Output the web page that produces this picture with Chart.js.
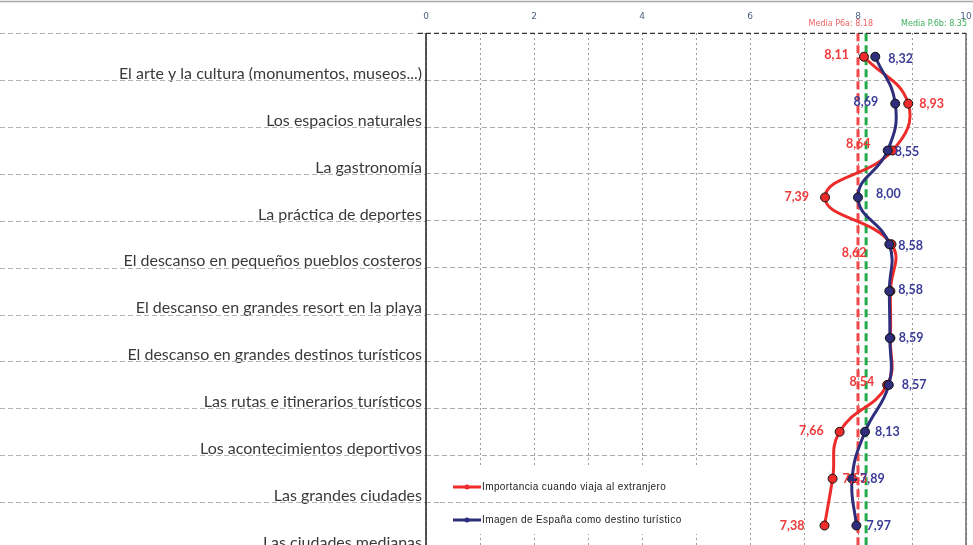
<!DOCTYPE html>
<html>
<head>
<meta charset="utf-8">
<script src="https://cdn.jsdelivr.net/npm/chart.js@4/dist/chart.umd.min.js"></script>
<style>
  html, body { margin: 0; padding: 0; background: #fff; overflow: hidden; }
  #wrap { position: relative; width: 973px; height: 560px; }
</style>
</head>
<body>
<div id="wrap"><canvas id="c"></canvas></div>
<script>
// ---- data ----
const categories = [
  'El arte y la cultura (monumentos, museos...)',
  'Los espacios naturales',
  'La gastronomía',
  'La práctica de deportes',
  'El descanso en pequeños pueblos costeros',
  'El descanso en grandes resort en la playa',
  'El descanso en grandes destinos turísticos',
  'Las rutas e itinerarios turísticos',
  'Los acontecimientos deportivos',
  'Las grandes ciudades',
  'Las ciudades medianas'
];
const seriesNames = ['Importancia cuando viaja al extranjero', 'Imagen de España como destino turístico'];
const importancia = [8.11, 8.93, 8.64, 7.39, 8.62, 8.60, 8.60, 8.54, 7.66, 7.53, 7.38];
const imagen      = [8.32, 8.69, 8.55, 8.00, 8.58, 8.58, 8.59, 8.57, 8.13, 7.89, 7.97];
const importanciaLabelShown = [true, true, true, true, true, false, false, true, true, true, true];
const imagenLabelShown      = [true, true, true, true, true, true, true, true, true, true, true];
const xTickLabels = [0, 2, 4, 6, 8, 10];
const meanTexts = ['Media P6a: 8.18', 'Media P.6b: 8.35'];
const meanLinePositions = [8.0, 8.15];

// ---- label placement (negative dx = text to the left, right-aligned) ----
const importanciaLabelDx = [-15, 11, -22, -16, -25, 0, 0, -13, -16, 10, -20];
const importanciaLabelDy = [-2, 0, -7, 0, 9, 0, 0, -3, -1, 0, 0];
const imagenLabelDx = [13, -17, 7, 18, 9, 9, 9, 13, 10, 8, 10];
const imagenLabelDy = [2, -2, 1, -3, 2, -1, 0, 0, 0, 0, 0];

const RED = '#ee2b2b';
const BLUE = '#2e2e7c';
const RED_TXT = '#f03a3a';
const BLUE_TXT = '#3b3b98';
const GREEN = '#22aa4a';

function fmt(v) { return v.toFixed(2).replace('.', ','); }

const decorPlugin = {
  id: 'decor',
  beforeDatasetsDraw(chart) {
    const ctx = chart.ctx;
    const a = chart.chartArea;
    const ys = chart.scales.y;
    const xs = chart.scales.x;
    const step = ys.getPixelForValue(1) - ys.getPixelForValue(0);
    ctx.save();
    // legend background box
    ctx.fillStyle = '#ffffff';
    ctx.fillRect(a.left + 14, 468, 305, 66);
    // horizontal dashed lines to the left of the plot and through the legend box
    ctx.lineWidth = 1;
    ctx.setLineDash([5, 3]);
    for (let i = 0; i < categories.length; i++) {
      const yb = Math.round(ys.getPixelForValue(i) - step / 2) + 0.5;
      ctx.strokeStyle = '#b4b4b4';
      ctx.beginPath();
      ctx.moveTo(0, yb);
      ctx.lineTo(a.left, yb);
      ctx.stroke();
      if (yb > 468 && yb < 534) {
        ctx.beginPath();
        ctx.moveTo(a.left + 14, yb);
        ctx.lineTo(a.left + 319, yb);
        ctx.stroke();
      }
    }
    // mean lines
    ctx.lineWidth = 3;
    ctx.setLineDash([8, 4]);
    const meanColors = ['#f04848', GREEN];
    meanLinePositions.forEach((m, k) => {
      const x = xs.getPixelForValue(m);
      ctx.strokeStyle = meanColors[k];
      ctx.beginPath();
      ctx.moveTo(x, a.top);
      ctx.lineTo(x, a.bottom);
      ctx.stroke();
    });
    // borders
    ctx.setLineDash([5, 3]);
    ctx.lineWidth = 1.3;
    ctx.strokeStyle = '#333';
    ctx.beginPath();
    ctx.moveTo(a.left - 8, a.top);
    ctx.lineTo(a.right, a.top);
    ctx.stroke();
    ctx.setLineDash([]);
    ctx.lineWidth = 1.6;
    ctx.strokeStyle = '#2a2a2a';
    ctx.beginPath();
    ctx.moveTo(a.left, a.top);
    ctx.lineTo(a.left, a.bottom);
    ctx.stroke();
    ctx.strokeStyle = '#555';
    ctx.lineWidth = 1.3;
    ctx.beginPath();
    ctx.moveTo(a.right, a.top);
    ctx.lineTo(a.right, a.bottom);
    ctx.stroke();
    // top frame line
    ctx.strokeStyle = '#a8a8a8';
    ctx.lineWidth = 1.5;
    ctx.beginPath();
    ctx.moveTo(0, 1.5);
    ctx.lineTo(chart.width, 1.5);
    ctx.stroke();
    // mean texts
    ctx.font = '8px "DejaVu Sans"';
    ctx.textAlign = 'right';
    ctx.textBaseline = 'middle';
    ctx.fillStyle = '#f06262';
    ctx.fillText(meanTexts[0], a.right - 93, 24);
    ctx.fillStyle = '#3cae5c';
    ctx.fillText(meanTexts[1], a.right + 1, 24);
    ctx.restore();
  },
  afterDatasetsDraw(chart) {
    const ctx = chart.ctx;
    const a = chart.chartArea;
    ctx.save();
    ctx.font = 'bold 12.5px Lato';
    ctx.textBaseline = 'middle';
    const sets = [
      { meta: chart.getDatasetMeta(0), vals: importancia, dx: importanciaLabelDx, dy: importanciaLabelDy, shown: importanciaLabelShown, color: RED_TXT },
      { meta: chart.getDatasetMeta(1), vals: imagen, dx: imagenLabelDx, dy: imagenLabelDy, shown: imagenLabelShown, color: BLUE_TXT }
    ];
    sets.forEach(s => {
      ctx.fillStyle = s.color;
      s.meta.data.forEach((pt, i) => {
        if (!s.shown[i]) return;
        const dx = s.dx[i];
        ctx.textAlign = dx < 0 ? 'right' : 'left';
        ctx.fillText(fmt(s.vals[i]), pt.x + dx, pt.y + s.dy[i]);
      });
    });
    // legend
    const items = [
      { name: seriesNames[0], color: RED, y: 487 },
      { name: seriesNames[1], color: BLUE, y: 520 }
    ];
    items.forEach(it => {
      ctx.strokeStyle = it.color;
      ctx.lineWidth = 3;
      ctx.beginPath();
      ctx.moveTo(a.left + 27, it.y);
      ctx.lineTo(a.left + 55, it.y);
      ctx.stroke();
      ctx.fillStyle = it.color;
      ctx.beginPath();
      ctx.arc(a.left + 41, it.y, 2.5, 0, Math.PI * 2);
      ctx.fill();
      ctx.fillStyle = '#222';
      ctx.font = '10px "Liberation Sans"';
      try { ctx.letterSpacing = '0.4px'; } catch (e) {}
      ctx.textAlign = 'left';
      ctx.fillText(it.name, a.left + 56, it.y);
      try { ctx.letterSpacing = '0px'; } catch (e) {}
    });
    ctx.restore();
  }
};

new Chart(document.getElementById('c'), {
  type: 'line',
  data: {
    labels: categories,
    datasets: [
      {
        label: seriesNames[0],
        data: importancia,
        borderColor: RED,
        backgroundColor: RED,
        borderWidth: 3,
        tension: 0.45,
        pointRadius: 4.5,
        pointBackgroundColor: RED,
        pointBorderColor: '#111',
        pointBorderWidth: 1,
        order: 1
      },
      {
        label: seriesNames[1],
        data: imagen,
        borderColor: BLUE,
        backgroundColor: BLUE,
        borderWidth: 3,
        tension: 0.45,
        pointRadius: 4.5,
        pointBackgroundColor: BLUE,
        pointBorderColor: '#111',
        pointBorderWidth: 1,
        order: 0
      }
    ]
  },
  options: {
    indexAxis: 'y',
    responsive: true,
    maintainAspectRatio: false,
    animation: false,
    layout: { padding: { top: 0, left: 0, right: 7, bottom: 11 } },
    plugins: { legend: { display: false }, tooltip: { enabled: false } },
    scales: {
      x: {
        type: 'linear',
        position: 'top',
        min: 0,
        max: 10,
        afterFit(scale) { scale.height = 33.3; scale.paddingLeft = 0; scale.paddingRight = 0; },
        ticks: {
          stepSize: 1,
          autoSkip: false,
          maxRotation: 0,
          padding: 11,
          color: '#4f5f82',
          font: { family: 'DejaVu Sans', size: 9 },
          callback: v => (xTickLabels.includes(v) ? String(v) : '')
        },
        grid: { color: '#9a9a9a', lineWidth: 1, drawTicks: false },
        border: { display: false, dash: [2, 3] }
      },
      y: {
        type: 'category',
        offset: true,
        afterFit(scale) { scale.width = 426; scale.paddingTop = 0; scale.paddingBottom = 0; },
        ticks: {
          padding: 4,
          labelOffset: 17,
          color: '#3a3a3a',
          font: { family: 'Lato', size: 16 }
        },
        grid: { offset: true, color: '#ababab', lineWidth: 1, drawTicks: false },
        border: { display: false, dash: [5, 3] }
      }
    }
  },
  plugins: [decorPlugin]
});
</script>
</body>
</html>
